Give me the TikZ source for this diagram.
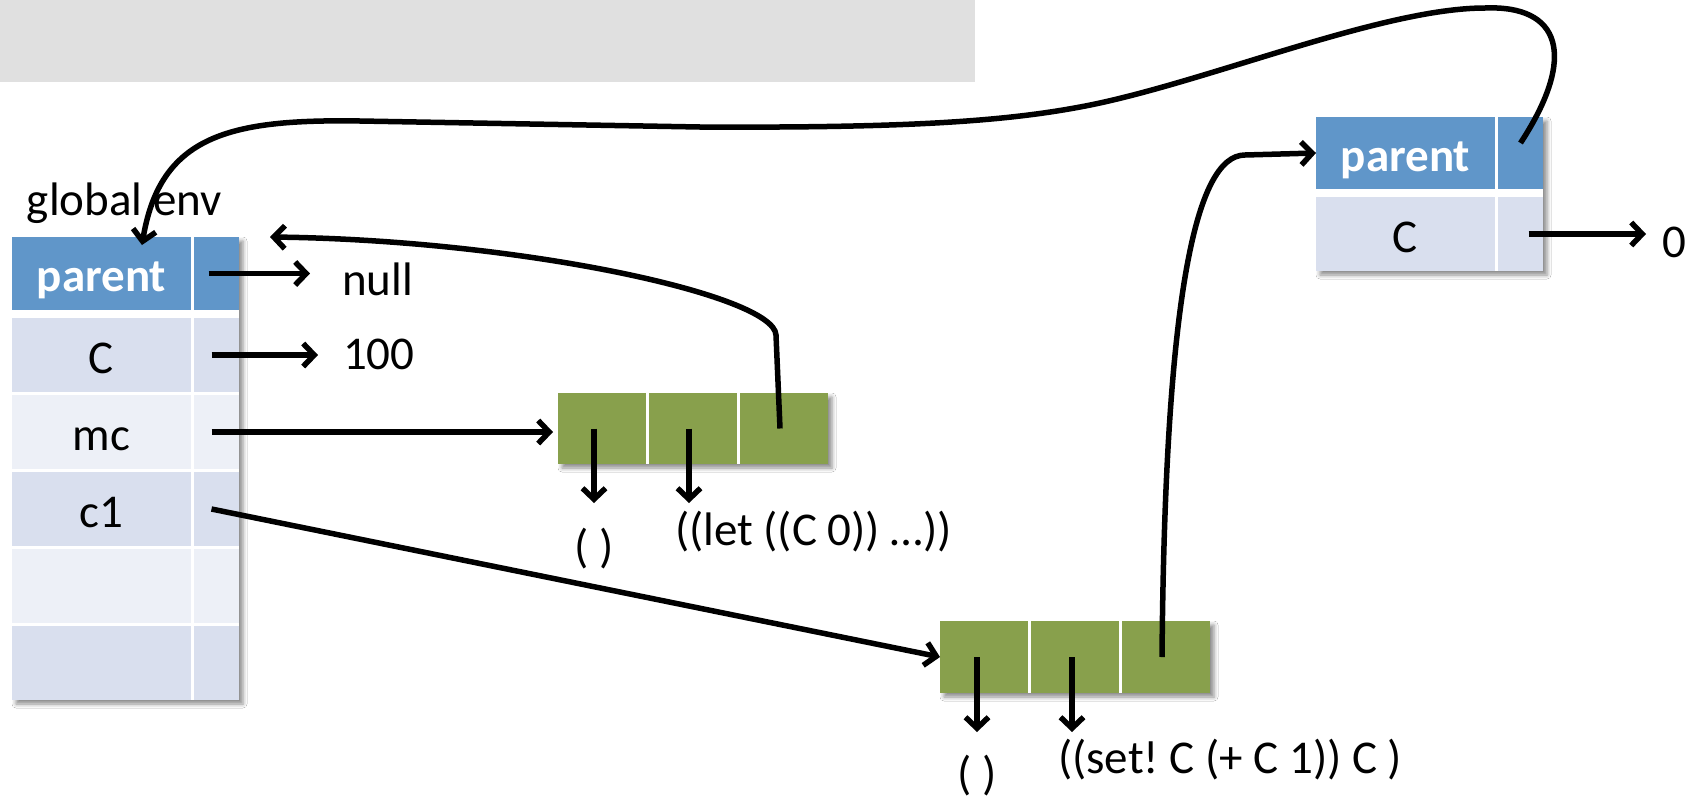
\documentclass[tikz,border=0pt]{standalone}
\usepackage{fontspec}
\setmainfont{Carlito}
\frenchspacing
\usetikzlibrary{arrows.meta,shadows.blur,calc}
\definecolor{hdr}{HTML}{6096C9}
\definecolor{rowA}{HTML}{D9DFEE}
\definecolor{rowB}{HTML}{EDF0F7}
\definecolor{grn}{HTML}{88A04C}
\definecolor{gry}{HTML}{E0E0E0}
\begin{document}
\begin{tikzpicture}[x=1pt,y=-1pt,
  txt/.style={font=\fontsize{47}{56}\selectfont, inner sep=0pt, outer sep=0pt},
  cellbase/.style={txt, anchor=north west, text height=40pt, text depth=4pt},
  namecell/.style={cellbase, minimum width=179pt, minimum height=#1},
  valcell/.style={cellbase, minimum width=45pt, minimum height=#1},
  hdrtxt/.style={text=white, font=\fontsize{47}{56}\selectfont\bfseries},
  gcell/.style={anchor=north west, inner sep=0pt, outer sep=0pt, fill=grn, minimum width=88pt, minimum height=#1},
  shadowbox/.style={fill=white, blur shadow={shadow xshift=4pt, shadow yshift=-4pt, shadow blur radius=4pt, shadow opacity=45}},
  arr/.style={line width=5.5pt, -{Straight Barb[length=11pt,width=23pt]}},
  lbl/.style={txt, anchor=base west}
]
\useasboundingbox (0,0) rectangle (1699,801);
\fill[white] (0,0) rectangle (1699,801);
\fill[gry] (0,0) rectangle (975,82);

% shadows / backgrounds
\path[shadowbox] (12,237) rectangle (239,700);
\path[shadowbox] (1316,117) rectangle (1543,271);
\path[shadowbox] (558,393) rectangle (828,464);
\path[shadowbox] (940,621) rectangle (1210,693);

% global env
\node[lbl] (glabel) at (27,215) {global env};
\node[namecell=73pt, fill=hdr, hdrtxt] (gp) at (12,237) {parent};
\node[valcell=73pt, fill=hdr] (gpv) at (194,237) {};
\node[namecell=74pt, fill=rowA] (gc) at (12,318) {C};
\node[valcell=74pt, fill=rowA] (gcv) at (194,318) {};
\node[namecell=74pt, fill=rowB] (gmc) at (12,395) {mc};
\node[valcell=74pt, fill=rowB] (gmcv) at (194,395) {};
\node[namecell=74pt, fill=rowA] (gc1) at (12,472) {c1};
\node[valcell=74pt, fill=rowA] (gc1v) at (194,472) {};
\node[namecell=74pt, fill=rowB] (ge1) at (12,549) {};
\node[valcell=74pt, fill=rowB] (ge1v) at (194,549) {};
\node[namecell=74pt, fill=rowA] (ge2) at (12,626) {};
\node[valcell=74pt, fill=rowA] (ge2v) at (194,626) {};

% right frame
\node[namecell=72pt, fill=hdr, hdrtxt] (rp) at (1316,117) {parent};
\node[valcell=72pt, fill=hdr] (rpv) at (1498,117) {};
\node[namecell=74pt, fill=rowA] (rc) at (1316,197) {C};
\node[valcell=74pt, fill=rowA] (rcv) at (1498,197) {};

% let closure
\node[gcell=71pt] (let1) at (558,393) {};
\node[gcell=71pt] (let2) at (649,393) {};
\node[gcell=71pt] (let3) at (740,393) {};
% set closure
\node[gcell=72pt] (set1) at (940,621) {};
\node[gcell=72pt] (set2) at (1031,621) {};
\node[gcell=72pt] (set3) at (1122,621) {};

% value labels
\node[lbl] (null) at (342,295) {null};
\node[lbl] (hund) at (343,369) {100};
\node[lbl] (zero) at (1662,257) {0};
\node[txt, anchor=base] (lnil) at (594,562) {( )};
\node[lbl] (lbody) at (675,545) {((let ((C 0)) …))};
\node[txt, anchor=base] (snil) at (977,789) {( )};
\node[lbl] (sbody) at (1058,773) {((set! C (+ C 1)) C )};

\coordinate (d1) at (594,503);
\coordinate (d2) at (689,503);
\coordinate (d3) at (977,732);
\coordinate (d4) at (1072,732);

% connectors
\draw[arr, shorten >=24pt] ([xshift=-8pt]gpv.center) -- ([xshift=-8pt]gpv.center -| null.west);
\draw[arr, shorten >=20pt] ([xshift=-5pt]gcv.center) -- ([xshift=-5pt]gcv.center -| hund.west);
\draw[arr] ([xshift=-5pt]gmcv.center) -- ([xshift=-5pt]gmcv.center -| let1.west);
\draw[arr] ([xshift=-5pt]gc1v.center) -- (set1.west);
\draw[arr] ([xshift=-8pt]let1.center) -- (d1);
\draw[arr] ([xshift=-4pt]let2.center) -- (d2);
\draw[arr] ([xshift=-7pt]set1.center) -- (d3);
\draw[arr] ([xshift=-3pt]set2.center) -- (d4);
\draw[arr] ([xshift=-4pt]let3.center) -- (776,335) .. controls (774,295) and (520,240) .. ([xshift=31pt]gpv.north east);
\draw[arr] ([xshift=-4pt]set3.center) .. controls (1165,300) and (1195,155) .. (1245,155) -- (rp.west);
\draw[arr] ([yshift=10pt]rpv.center) .. controls (1578,55) and (1560,5) .. (1485,8)
  .. controls (1380,8) and (1200,85) .. (1080,107)
  .. controls (1000,122) and (900,128) .. (700,127)
  -- (360,121) .. controls (230,119) and (160,135) .. ([xshift=-49pt,yshift=-8pt]gp.north east);
\draw[arr, shorten >=24pt] ([xshift=8pt]rcv.center) -- ([xshift=8pt]rcv.center -| zero.west);
\end{tikzpicture}
\end{document}
